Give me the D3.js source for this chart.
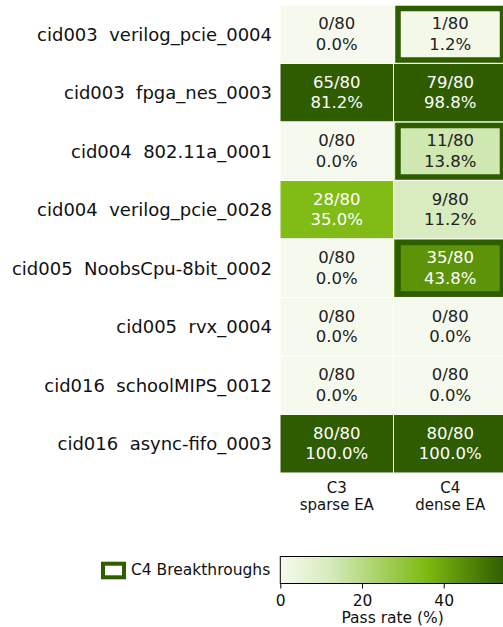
<!DOCTYPE html>
<html>
<head>
<meta charset="utf-8">
<script src="https://cdn.jsdelivr.net/npm/d3@7"></script>
<style>
  html, body { margin: 0; padding: 0; background: #fff; }
  svg { display: block; font-family: "DejaVu Sans", sans-serif; }
</style>
</head>
<body>
<div id="chart"></div>
<script>
// pass counts per task, out of 80 trials
const tasks = [
  "cid003  verilog_pcie_0004",
  "cid003  fpga_nes_0003",
  "cid004  802.11a_0001",
  "cid004  verilog_pcie_0028",
  "cid005  NoobsCpu-8bit_0002",
  "cid005  rvx_0004",
  "cid016  schoolMIPS_0012",
  "cid016  async-fifo_0003"
];
const conditions = [["C3", "sparse EA"], ["C4", "dense EA"]];
const c3Pass = [0, 65, 0, 28, 0, 0, 0, 80];
const c4Pass = [1, 79, 11, 9, 35, 0, 0, 80];
const trials = 80;
const colorTicks = [0, 20, 40];

// colormap stops (pass rate -> colour)
const stopValues = [0, 12, 36, 55];
const stopColors = ["#f6faee", "#d6ebbd", "#7cb90f", "#305c00"];
const edgeColor = "#2e5d00";

const width = 503, height = 627;
const margin = {left: 280, top: 5};
const colW = 113.5, rowH = 58.5;

// python-style round half to even, one decimal
function fmt(v) {
  const x = Math.round(v * 1000) / 100;
  const f = Math.floor(x), r = Math.round((x - f) * 1000) / 1000;
  const n = r > 0.5 ? f + 1 : r < 0.5 ? f : (f % 2 === 0 ? f : f + 1);
  return (n / 10).toFixed(1);
}

const cells = [];
tasks.forEach((t, i) => {
  [c3Pass[i], c4Pass[i]].forEach((p, j) => {
    cells.push({row: i, col: j, pass: p, rate: p / trials * 100,
      breakthrough: j === 1 && c3Pass[i] === 0 && p > 0});
  });
});

const x = d3.scaleBand().domain(d3.range(conditions.length))
  .range([margin.left, margin.left + colW * conditions.length]);
const y = d3.scaleBand().domain(d3.range(tasks.length))
  .range([margin.top, margin.top + rowH * tasks.length]);
const color = d3.scaleLinear().domain(stopValues).range(stopColors).clamp(true);

const svg = d3.select("#chart").append("svg")
  .attr("width", width).attr("height", height)
  .attr("viewBox", [0, 0, width, height]);

svg.append("g")
  .selectAll("rect")
  .data(cells)
  .join("rect")
    .attr("x", d => x(d.col))
    .attr("y", d => y(d.row))
    .attr("width", x.bandwidth())
    .attr("height", y.bandwidth())
    .attr("fill", d => color(d.rate))
    .attr("stroke", "#fff")
    .attr("stroke-width", 1);

// breakthrough outlines
svg.append("g")
  .selectAll("rect")
  .data(cells.filter(d => d.breakthrough))
  .join("rect")
    .attr("x", d => x(d.col) + 4.5)
    .attr("y", d => y(d.row) + 3.5)
    .attr("width", x.bandwidth() - 9)
    .attr("height", y.bandwidth() - 7)
    .attr("fill", "none")
    .attr("stroke", edgeColor)
    .attr("stroke-width", 5.5);

const txt = svg.append("g")
  .attr("font-size", 16.5)
  .attr("text-anchor", "middle")
  .selectAll("text")
  .data(cells)
  .join("text")
    .attr("fill", d => d.rate > 25 ? "#fff" : "#222")
    .attr("x", d => x(d.col) + x.bandwidth() / 2)
    .attr("y", d => y(d.row) + y.bandwidth() / 2);
txt.append("tspan").attr("dy", -5).text(d => `${d.pass}/${trials}`);
txt.append("tspan").attr("x", d => x(d.col) + x.bandwidth() / 2).attr("dy", 20.7)
  .text(d => `${fmt(d.rate)}%`);

// row labels
svg.append("g")
  .attr("font-size", 18)
  .attr("text-anchor", "end")
  .selectAll("text")
  .data(tasks)
  .join("text")
    .attr("x", margin.left - 8)
    .attr("y", (d, i) => y(i) + y.bandwidth() / 2)
    .attr("dy", "0.35em")
    .attr("fill", "#111")
    .attr("xml:space", "preserve")
    .style("white-space", "pre")
    .text(d => d);

// column labels
const colLab = svg.append("g")
  .attr("font-size", 15)
  .attr("text-anchor", "middle")
  .selectAll("text")
  .data(conditions)
  .join("text")
    .attr("fill", "#111")
    .attr("x", (d, i) => x(i) + x.bandwidth() / 2)
    .attr("y", 493);
colLab.append("tspan").text(d => d[0]);
colLab.append("tspan").attr("x", (d, i) => x(i) + x.bandwidth() / 2).attr("dy", 16.5).text(d => d[1]);

// legend patch
svg.append("rect")
  .attr("x", 103).attr("y", 563.7).attr("width", 21).attr("height", 13.6)
  .attr("fill", "#fff").attr("stroke", edgeColor).attr("stroke-width", 4);
svg.append("text")
  .attr("x", 131).attr("y", 575).attr("font-size", 15.5).attr("fill", "#111")
  .text("C4 Breakthroughs");

// colorbar
const cb = d3.scaleLinear().domain([0, 55]).range([280.3, 505]);
const grad = svg.append("defs").append("linearGradient")
  .attr("id", "cbar").attr("x1", 0).attr("x2", 1).attr("y1", 0).attr("y2", 0);
grad.selectAll("stop")
  .data(stopValues)
  .join("stop")
    .attr("offset", d => d / 55)
    .attr("stop-color", (d, i) => stopColors[i]);

svg.append("rect")
  .attr("x", cb(0)).attr("y", 556.5)
  .attr("width", cb(55) - cb(0)).attr("height", 27)
  .attr("fill", "url(#cbar)")
  .attr("stroke", "#000").attr("stroke-width", 1);

svg.append("g")
  .attr("transform", "translate(0,583.5)")
  .call(d3.axisBottom(cb).tickValues(colorTicks).tickSize(5).tickPadding(6).tickSizeOuter(0))
  .call(g => g.select(".domain").remove())
  .call(g => g.selectAll("text").attr("font-size", 15.5).attr("fill", "#111")
    .attr("font-family", "DejaVu Sans"));

svg.append("text")
  .attr("x", (cb(0) + cb(55)) / 2).attr("y", 623.3)
  .attr("text-anchor", "middle").attr("font-size", 15.5).attr("fill", "#111")
  .text("Pass rate (%)");
</script>
</body>
</html>
